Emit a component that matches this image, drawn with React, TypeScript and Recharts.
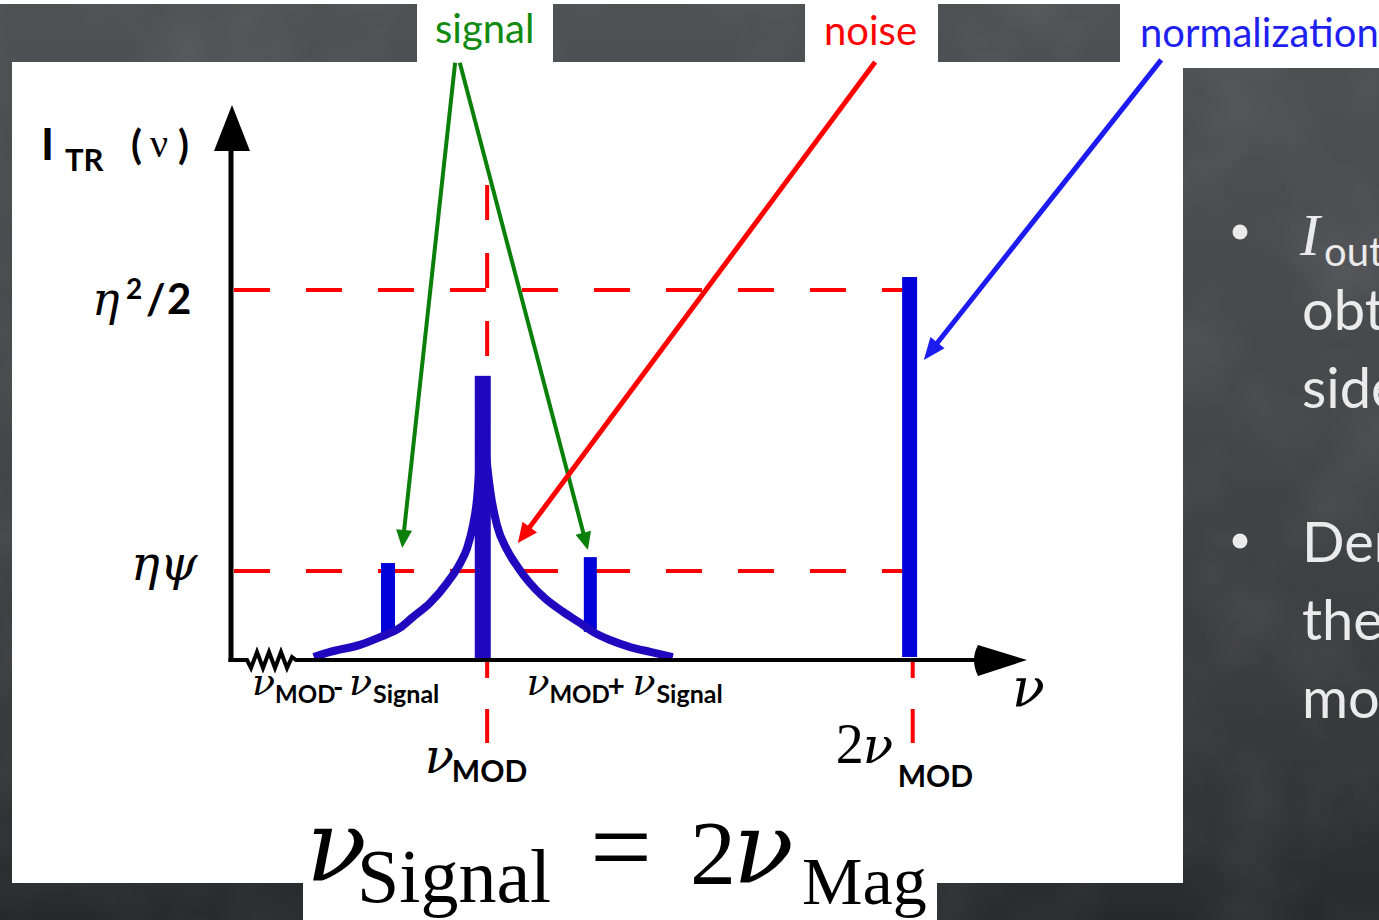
import React from 'react';
import { ComposedChart, Bar, Line, XAxis, YAxis, ReferenceLine } from 'recharts';

const SERIF = "'Liberation Serif', 'DejaVu Serif', serif";
const GREEK = "'DejaVu Serif', 'Liberation Serif', serif";
const SANS = "Lato, 'Open Sans', sans-serif";

// frequency in units of ν_MOD, intensity in units of η²/2
const freqDomain = [0.41, 2.27];
const ampDomain = [0, 1.5];

// spectral lines: lower sideband, carrier, upper sideband, 2nd harmonic
const lineFreq = [0.778, 1.0, 1.252, 2.0];
const lineLow = [0.068, 0, 0.076, 0.008];
const lineHigh = [0.262, 0.768, 0.278, 1.035];

// noise pedestal around the carrier
const noiseFreq = [0.604, 0.642, 0.712, 0.759, 0.806, 0.836, 0.876, 0.916, 0.947, 0.963, 0.977, 0.986, 0.993, 1.0,
  1.005, 1.017, 1.033, 1.057, 1.082, 1.11, 1.146, 1.188, 1.228, 1.258, 1.298, 1.345, 1.392, 1.445];
const noiseAmp = [0.008, 0.022, 0.041, 0.062, 0.087, 0.116, 0.154, 0.208, 0.262, 0.302, 0.365, 0.432, 0.541, 0.703,
  0.595, 0.46, 0.365, 0.297, 0.251, 0.208, 0.166, 0.13, 0.1, 0.076, 0.054, 0.035, 0.022, 0.008];

// reference levels: η²/2 and ηψ
const levelValues = [1, 0.2405];
const levelFrom = 0.417;
const levelTo = 1.99;

// x ticks: ν_MOD-ν_Signal, ν_MOD, ν_MOD+ν_Signal, 2ν_MOD
const freqTicks = [0.778, 1, 1.252, 2];

// vertical guides at ν_MOD and 2ν_MOD
const guideFreq = [1.01, 2.007];
const guideTop = 1.284;
const guideBelow = -0.224;

// annotation arrows [ν from, I from, ν to, I to]
const signalArrows = [[0.935, 1.614, 0.811, 0.303], [0.946, 1.614, 1.246, 0.297]];
const noiseArrow = [1.919, 1.616, 1.082, 0.316];
const normArrow = [2.589, 1.622, 2.033, 0.811];

const spectralLines = lineFreq.map((nu, i) => ({ nu, range: [lineLow[i], lineHigh[i]] }));
const noiseData = noiseFreq.map((nu, i) => ({ nu, amp: noiseAmp[i] }));

const lineColors = ['#0000d8', '#2008bf', '#0000d8', '#0000d8'];
const lineWidths = [14, 16, 13, 15];

const SpectralLine = (props: any) => {
  const { x, y, width, height, index } = props;
  const w = lineWidths[index];
  const cx = x + width / 2;
  return <rect x={cx - w / 2} y={Math.min(y, y + height)} width={w} height={Math.abs(height)} fill={lineColors[index]} />;
};

const arrowShape = (color: string, sw: number, head: number, half: number) => (props: any) => {
  const { x1, y1, x2, y2 } = props;
  const len = Math.hypot(x2 - x1, y2 - y1);
  const ux = (x2 - x1) / len;
  const uy = (y2 - y1) / len;
  const bx = x2 - ux * head;
  const by = y2 - uy * head;
  return (
    <g>
      <line x1={x1} y1={y1} x2={bx + ux * 2} y2={by + uy * 2} stroke={color} strokeWidth={sw} />
      <polygon points={`${x2},${y2} ${bx - uy * half},${by + ux * half} ${bx + uy * half},${by - ux * half}`} fill={color} />
    </g>
  );
};

const yAxisShape = (props: any) => {
  const { x1, y1, x2, y2 } = props;
  return (
    <g>
      <line x1={x1} y1={y1 + 2} x2={x2} y2={y2 + 40} stroke="#000" strokeWidth={5} />
      <polygon points={`${x2 + 1},${y2} ${x2 - 17},${y2 + 46} ${x2 + 19},${y2 + 46}`} fill="#000" />
    </g>
  );
};

const xAxisShape = (props: any) => {
  const { x1, y1, x2 } = props;
  const zz = [[16, 0], [20, 8], [26, -8], [32, 8], [38, -8], [44, 8], [50, -8], [56, 8], [61, -3], [65, 0]];
  const d = `M ${x1 - 2.5} ${y1} ` + zz.map(([dx, dy]) => `L ${x1 + dx} ${y1 + dy}`).join(' ') + ` L ${x2 - 46} ${y1}`;
  return (
    <g>
      <path d={d} stroke="#000" strokeWidth={4} fill="none" />
      <path d={`M ${x2 - 47} ${y1 - 15} Q ${x2 - 55} ${y1} ${x2 - 47} ${y1 + 16} L ${x2 + 2} ${y1} Z`} fill="#000" />
    </g>
  );
};

const bold = { fontFamily: SANS, fontWeight: 700 } as const;
const nu = { fontFamily: GREEK, fontStyle: 'italic' } as const;

const FreqTick = (props: any) => {
  const { x, y, payload } = props;
  const i = freqTicks.indexOf(payload.value);
  if (i === 0 || i === 2) {
    const x0 = i === 0 ? x - 136 : x - 64;
    const lower = i === 0;
    return (
      <text fill="#000">
        <tspan {...nu} fontSize={38} x={x0} y={y + 35}>ν</tspan>
        <tspan {...bold} fontSize={24} x={x0 + 23} y={y + 43}>MOD</tspan>
        <tspan {...bold} fontSize={lower ? 28 : 30} x={x0 + 81} y={y + 37}>{lower ? '-' : '+'}</tspan>
        <tspan {...nu} fontSize={38} x={x0 + (lower ? 97 : 106)} y={y + 35}>ν</tspan>
        <tspan {...bold} fontSize={25} x={x0 + (lower ? 121 : 130)} y={y + 43}>Signal</tspan>
      </text>
    );
  }
  if (i === 1) {
    return (
      <text fill="#000">
        <tspan {...nu} fontSize={48} x={x - 58} y={y + 113}>ν</tspan>
        <tspan {...bold} fontSize={30} x={x - 31} y={y + 122}>MOD</tspan>
      </text>
    );
  }
  return (
    <text fill="#000">
      <tspan fontFamily={SERIF} fontSize={56} x={x - 74} y={y + 103}>2</tspan>
      <tspan {...nu} fontSize={50} x={x - 47} y={y + 103}>ν</tspan>
      <tspan {...bold} fontSize={30} x={x - 12} y={y + 127}>MOD</tspan>
    </text>
  );
};

const LevelTick = (props: any) => {
  const { x, y, payload } = props;
  const i = levelValues.indexOf(payload.value);
  if (i === 0) {
    return (
      <text fill="#000">
        <tspan {...nu} fontSize={46} x={x - 139} y={y + 25}>η</tspan>
        <tspan {...bold} fontSize={28} x={x - 105} y={y + 9}>2</tspan>
        <tspan {...bold} fontSize={42} x={x - 85} y={y + 24}>/</tspan>
        <tspan {...bold} fontSize={42} x={x - 64} y={y + 24}>2</tspan>
      </text>
    );
  }
  return (
    <text x={x - 100} y={y + 9} fill="#000" {...nu} fontSize={48}>ηψ</text>
  );
};

const renderAmpTitle = (props: any) => {
  const vb = props.viewBox || {};
  const x0 = vb.x ?? 0;
  const y0 = vb.y ?? 105;
  return (
    <text fill="#000">
      <tspan {...bold} fontSize={44} x={x0 + 41} y={y0 + 55}>I</tspan>
      <tspan {...bold} fontSize={31} x={x0 + 65} y={y0 + 66}>TR</tspan>
      <tspan {...bold} fontSize={40} x={x0 + 131} y={y0 + 54}>(</tspan>
      <tspan fontFamily={SERIF} fontSize={40} x={x0 + 150} y={y0 + 52}>ν</tspan>
      <tspan {...bold} fontSize={40} x={x0 + 178} y={y0 + 54}>)</tspan>
    </text>
  );
};

const renderFreqTitle = (props: any) => {
  const vb = props.viewBox || {};
  return (
    <text x={(vb.x ?? 231) + (vb.width ?? 794) - 13} y={(vb.y ?? 660) + 46} fill="#000" {...nu} fontSize={54}>ν</text>
  );
};

const Board = () => (
  <svg width={1379} height={920} style={{ position: 'absolute', left: 0, top: 0 }}>
    <defs>
      <linearGradient id="board" x1="0" y1="0" x2="0" y2="1">
        <stop offset="0" stopColor="#505155" />
        <stop offset="0.45" stopColor="#46474b" />
        <stop offset="0.8" stopColor="#38393c" />
        <stop offset="1" stopColor="#28292b" />
      </linearGradient>
      <filter id="chalk" x="0" y="0" width="100%" height="100%">
        <feTurbulence type="fractalNoise" baseFrequency="0.01" numOctaves="3" seed="4" />
        <feColorMatrix type="matrix" values="0 0 0 0 1  0 0 0 0 1  0 0 0 0 1  0 0 0 0.5 -0.2" />
      </filter>
    </defs>
    <rect x={0} y={0} width={1379} height={920} fill="#ffffff" />
    <rect x={0} y={4} width={1379} height={916} fill="url(#board)" />
    <rect x={0} y={4} width={1379} height={916} filter="url(#chalk)" opacity={0.25} />
    <rect x={12} y={62} width={1171} height={821} fill="#ffffff" />
    <rect x={417} y={4} width={136} height={58} fill="#ffffff" />
    <rect x={805} y={4} width={133} height={58} fill="#ffffff" />
    <rect x={1120} y={4} width={259} height={64} fill="#ffffff" />
    <rect x={303} y={815} width={634} height={105} fill="#ffffff" />

    <text x={435} y={43} fill="#108a10" fontFamily={SANS} fontSize={40}>signal</text>
    <text x={824} y={45} fill="#ff0000" fontFamily={SANS} fontSize={40}>noise</text>
    <text x={1140} y={47} fill="#1f1ff0" fontFamily={SANS} fontSize={40}>normalization</text>

    <g fill="#ebebeb">
      <circle cx={1240} cy={232} r={7.5} />
      <circle cx={1240} cy={541} r={7.5} />
      <text x={1300} y={255} fontFamily={SERIF} fontStyle="italic" fontSize={60}>I</text>
      <text x={1324} y={266} fontFamily={SANS} fontSize={40}>out</text>
      <text fontFamily={SANS} fontSize={56}>
        <tspan x={1302} y={330}>obt</tspan>
        <tspan x={1302} y={408}>side</tspan>
        <tspan x={1302} y={562}>Der</tspan>
        <tspan x={1302} y={640}>the</tspan>
        <tspan x={1302} y={718}>mo</tspan>
      </text>
    </g>

    <text fill="#000" fontFamily={SERIF}>
      <tspan x={306} y={880} fontFamily={GREEK} fontStyle="italic" fontSize={100}>ν</tspan>
      <tspan x={357} y={902} fontSize={76}>Signal</tspan>
      <tspan x={590} y={884} fontSize={110}>=</tspan>
      <tspan x={690} y={884} fontSize={92}>2</tspan>
      <tspan x={733} y={882} fontFamily={GREEK} fontStyle="italic" fontSize={100}>ν</tspan>
      <tspan x={802} y={904} fontSize={68}>Mag</tspan>
    </text>
  </svg>
);

export default function App() {
  return (
    <div style={{ position: 'absolute', left: 0, top: 0, width: 1379, height: 920, overflow: 'hidden' }}>
      <Board />
      <ComposedChart
        width={1379}
        height={920}
        data={spectralLines}
        margin={{ top: 105, right: 354, bottom: 0, left: 0 }}
        style={{ position: 'absolute', left: 0, top: 0 }}
      >
        <XAxis type="number" dataKey="nu" domain={freqDomain} allowDataOverflow ticks={freqTicks} interval={0}
          axisLine={false} tickLine={false} tickSize={0} tickMargin={0} height={260}
          tick={<FreqTick />} label={{ content: renderFreqTitle }} />
        <YAxis type="number" domain={ampDomain} allowDataOverflow ticks={levelValues} interval={0}
          axisLine={false} tickLine={false} tickSize={0} tickMargin={0} width={231}
          tick={<LevelTick />} label={{ content: renderAmpTitle }} />

        {levelValues.map((v) => (
          <ReferenceLine key={`lvl-${v}`} segment={[{ x: levelFrom, y: v }, { x: levelTo, y: v }]}
            stroke="#ff0000" strokeWidth={4} strokeDasharray="36 36" ifOverflow="visible" zIndex={50} />
        ))}
        <ReferenceLine segment={[{ x: guideFreq[0], y: guideTop }, { x: guideFreq[0], y: lineHigh[1] }]}
          stroke="#ff0000" strokeWidth={4} strokeDasharray="35 33" ifOverflow="visible" zIndex={50} />
        {guideFreq.map((f) => (
          <ReferenceLine key={`g-${f}`} segment={[{ x: f, y: 0 }, { x: f, y: guideBelow }]}
            stroke="#ff0000" strokeWidth={4} strokeDasharray="18 31 40" ifOverflow="visible" zIndex={50} />
        ))}

        <Bar dataKey="range" barSize={16} shape={SpectralLine} isAnimationActive={false} />
        <Line data={noiseData} dataKey="amp" type="monotone" stroke="#2008bf" strokeWidth={8}
          dot={false} activeDot={false} isAnimationActive={false} />

        {signalArrows.map((a, i) => (
          <ReferenceLine key={`sig-${i}`} segment={[{ x: a[0], y: a[1] }, { x: a[2], y: a[3] }]}
            ifOverflow="visible" zIndex={700} shape={arrowShape('#0a800a', 4, 18, 8)} />
        ))}
        <ReferenceLine segment={[{ x: noiseArrow[0], y: noiseArrow[1] }, { x: noiseArrow[2], y: noiseArrow[3] }]}
          ifOverflow="visible" zIndex={710} shape={arrowShape('#ff0000', 5, 20, 9)} />
        <ReferenceLine segment={[{ x: normArrow[0], y: normArrow[1] }, { x: normArrow[2], y: normArrow[3] }]}
          ifOverflow="visible" zIndex={710} shape={arrowShape('#1c1cf0', 5, 22, 9)} />

        <ReferenceLine segment={[{ x: freqDomain[0], y: 0 }, { x: freqDomain[0], y: ampDomain[1] }]}
          ifOverflow="visible" zIndex={800} shape={yAxisShape} />
        <ReferenceLine segment={[{ x: freqDomain[0], y: 0 }, { x: freqDomain[1], y: 0 }]}
          ifOverflow="visible" zIndex={800} shape={xAxisShape} />
      </ComposedChart>
    </div>
  );
}
